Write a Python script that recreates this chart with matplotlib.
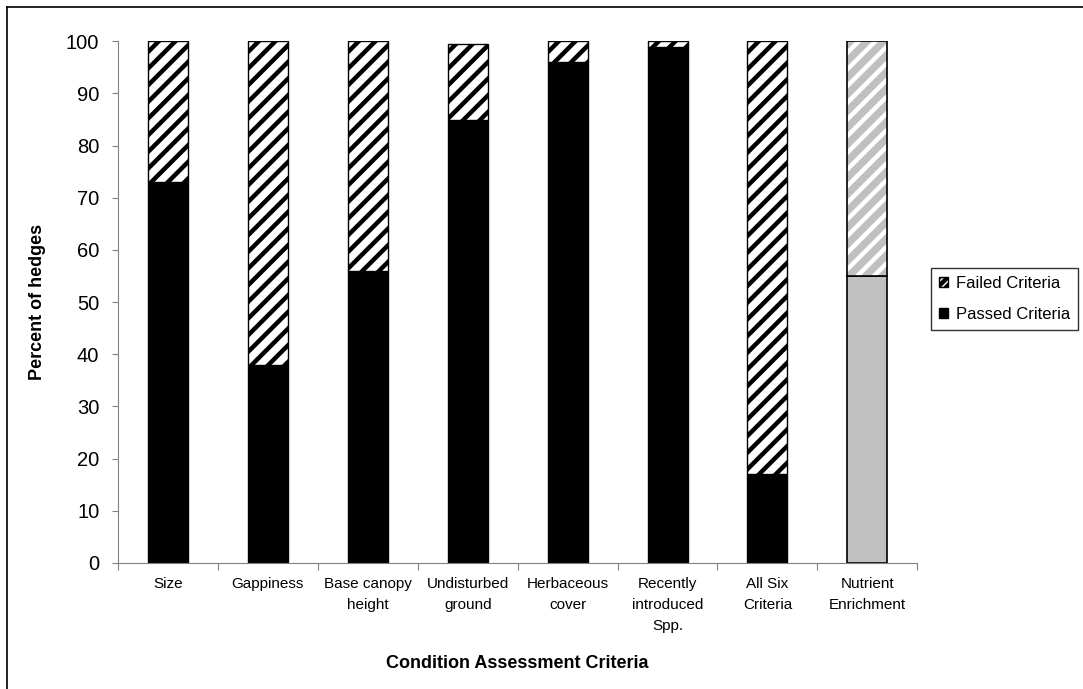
import matplotlib
matplotlib.use("Agg")
import matplotlib.pyplot as plt
from matplotlib.lines import Line2D
from matplotlib.patches import Patch

categories = ["Size", "Gappiness", "Base canopy\nheight", "Undisturbed\nground",
              "Herbaceous\ncover", "Recently\nintroduced\nSpp.", "All Six\nCriteria",
              "Nutrient\nEnrichment"]
passed = [73, 38, 56, 85, 96, 99, 17, 55]
failed = [27, 62, 44, 14.5, 4, 1, 83, 45]
yticks = [0, 10, 20, 30, 40, 50, 60, 70, 80, 90, 100]

plt.rcParams['font.family'] = ['Liberation Sans', 'DejaVu Sans']
plt.rcParams['hatch.linewidth'] = 3.2

fig = plt.figure(figsize=(10.83, 6.89), dpi=100)
ax = fig.add_axes([0.109, 0.183, 0.738, 0.757])

x = list(range(len(categories)))
w = 0.4
n = len(categories)
for i in range(n - 1):
    ax.bar(x[i], passed[i], width=w, color='black', edgecolor='black', linewidth=1)
    ax.bar(x[i], failed[i], bottom=passed[i], width=w, facecolor='white',
           edgecolor='black', hatch='//', linewidth=1)
i = n - 1
ax.bar(x[i], passed[i], width=w, color='#c0c0c0', edgecolor='black', linewidth=1.2)
ax.bar(x[i], failed[i], bottom=passed[i], width=w, facecolor='#c0c0c0',
       edgecolor='white', hatch='//', linewidth=0)
ax.bar(x[i], failed[i], bottom=passed[i], width=w, fill=False,
       edgecolor='black', linewidth=1.2)

ax.set_xlim(-0.5, n - 0.5)
ax.set_ylim(0, 100)
ax.set_yticks(yticks)
ax.tick_params(axis='y', labelsize=14.5, length=4.5, pad=9, color='#808080')
ax.set_xticks([k + 0.5 for k in range(-1, n)], minor=False)
ax.set_xticklabels([''] * (n + 1))
ax.set_xticks(x, minor=True)
ax.set_xticklabels(categories, minor=True, fontsize=11, linespacing=1.6)
ax.tick_params(axis='x', which='major', length=5, color='#808080', direction='out')
ax.tick_params(axis='x', which='minor', length=0, pad=10.5)
for s in ['top', 'right']:
    ax.spines[s].set_visible(False)
ax.spines['left'].set_color('#808080')
ax.spines['bottom'].set_color('#808080')

fig.text(38 / 1083, 1 - 302 / 689, "Percent of hedges", rotation=90,
         ha='center', va='center', fontsize=13, fontweight='bold')
ax.set_xlabel("Condition Assessment Criteria", fontsize=13, fontweight='bold', labelpad=16)

handles = [Patch(facecolor='white', edgecolor='black', hatch='////'),
           Patch(facecolor='black', edgecolor='black')]
leg = fig.legend(handles, ["Failed Criteria", "Passed Criteria"], loc='upper left',
                 bbox_to_anchor=(931 / 1083, 1 - 268 / 689), fontsize=12,
                 frameon=True, fancybox=False, edgecolor='black',
                 handlelength=0.55, handleheight=0.55, handletextpad=0.5,
                 borderpad=0.45, labelspacing=1.0, borderaxespad=0)
leg.get_frame().set_linewidth(1)

fig.add_artist(Line2D([7 / 1083, 7 / 1083], [0, 1 - 7 / 689], color='black', lw=1.2,
                      transform=fig.transFigure))
fig.add_artist(Line2D([7 / 1083, 1], [1 - 7 / 689, 1 - 7 / 689], color='black', lw=1.2,
                      transform=fig.transFigure))

fig.savefig("out.png", dpi=100)
